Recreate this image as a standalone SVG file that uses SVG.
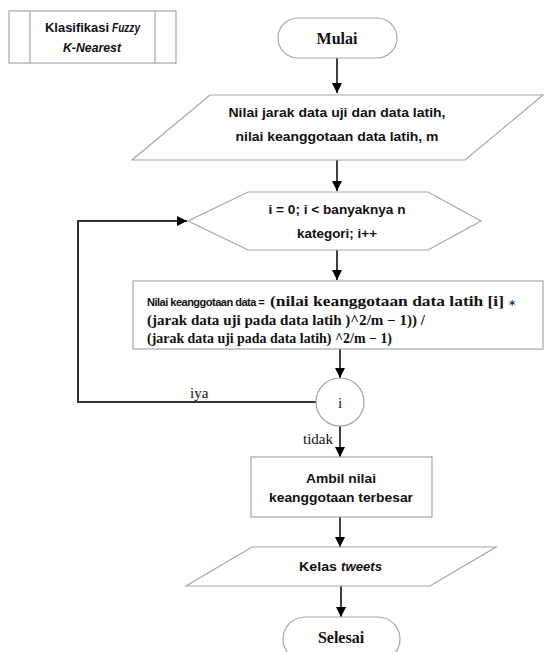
<svg xmlns="http://www.w3.org/2000/svg" width="544" height="652" viewBox="0 0 544 652">
<defs>
<marker id="ah" markerWidth="11" markerHeight="11" refX="10" refY="5.5" orient="auto" markerUnits="userSpaceOnUse">
<path d="M0,0.5 L10,5.5 L0,10.5 Z" fill="#000"/>
</marker>
<style>
.sh{fill:#fff;stroke:#a6a6a6;stroke-width:1.2}
.cn{fill:none;stroke:#111;stroke-width:1.6}
.lp{fill:none;stroke:#333;stroke-width:2}
.t{font-family:"Liberation Sans",Arial,sans-serif;font-weight:bold;font-size:13.5px;fill:#111;text-anchor:middle}
.tl{font-family:"Liberation Sans",Arial,sans-serif;font-weight:bold;font-size:12.5px;fill:#111}
.nk{font-family:"Liberation Sans",Arial,sans-serif;font-weight:bold;font-size:11px;letter-spacing:-0.5px;fill:#111}
.m{font-family:"Liberation Serif","Times New Roman",serif;font-weight:bold;font-size:14px;fill:#111}
.ast{font-family:"Liberation Serif","Times New Roman",serif;font-size:10px;fill:#111}
.s{font-family:"Liberation Serif","Times New Roman",serif;font-size:15px;fill:#111}
.sb{font-family:"Liberation Serif","Times New Roman",serif;font-weight:bold;font-size:16px;fill:#111;text-anchor:middle}
</style>
</defs>
<rect width="544" height="652" fill="#fff"/>

<g id="header">
<rect class="sh" x="9" y="11" width="167" height="52"/>
<line class="sh" x1="30" y1="11" x2="30" y2="63"/>
<line class="sh" x1="155" y1="11" x2="155" y2="63"/>
<text class="tl" x="45" y="32" textLength="64" lengthAdjust="spacingAndGlyphs">Klasifikasi</text>
<text class="tl" x="112" y="32" font-style="italic" textLength="28" lengthAdjust="spacingAndGlyphs">Fuzzy</text>
<text class="t" x="92" y="52" font-style="italic" textLength="58" lengthAdjust="spacingAndGlyphs">K-Nearest</text>
</g>

<g id="connectors">
<line class="cn" x1="337" y1="58" x2="337" y2="93" marker-end="url(#ah)"/>
<line class="cn" x1="337" y1="160" x2="337" y2="191" marker-end="url(#ah)"/>
<line class="cn" x1="337" y1="250" x2="337" y2="280" marker-end="url(#ah)"/>
<line class="cn" x1="340" y1="349" x2="340" y2="378" marker-end="url(#ah)"/>
<line class="cn" x1="340" y1="426" x2="340" y2="457" marker-end="url(#ah)"/>
<line class="cn" x1="340" y1="517" x2="340" y2="547" marker-end="url(#ah)"/>
<line class="cn" x1="341" y1="586" x2="341" y2="617" marker-end="url(#ah)"/>
<polyline class="lp" points="316,402 78,402 78,221 187,221" marker-end="url(#ah)"/>
<text class="s" x="190" y="398">iya</text>
<text class="s" x="303" y="444">tidak</text>
</g>

<g id="mulai">
<rect class="sh" x="278" y="18" width="119" height="40" rx="20" ry="20"/>
<text class="sb" x="337" y="44">Mulai</text>
</g>

<g id="input">
<polygon class="sh" points="210,95 543,95 465,160 132,160"/>
<text class="t" x="337" y="117" textLength="217" lengthAdjust="spacingAndGlyphs">Nilai jarak data uji dan data latih,</text>
<text class="t" x="337" y="141" textLength="203" lengthAdjust="spacingAndGlyphs">nilai keanggotaan data latih, m</text>
</g>

<g id="loop">
<polygon class="sh" points="248,192 428,192 481,221 428,250 248,250 188,221"/>
<text class="t" x="337" y="214" textLength="137" lengthAdjust="spacingAndGlyphs">i = 0; i &lt; banyaknya n</text>
<text class="t" x="337" y="238" textLength="80" lengthAdjust="spacingAndGlyphs">kategori; i++</text>
</g>

<g id="hitung">
<rect class="sh" x="133" y="281" width="410" height="68"/>
<text class="nk" x="147" y="306">Nilai keanggotaan data =</text>
<text class="m" x="270" y="306" textLength="234" lengthAdjust="spacingAndGlyphs">(nilai keanggotaan data latih [i]</text>
<text class="ast" x="508" y="306">∗</text>
<text class="m" x="147" y="325" textLength="278" lengthAdjust="spacingAndGlyphs">(jarak data uji pada data latih )^2/m − 1))  /</text>
<text class="m" x="147" y="343" textLength="245" lengthAdjust="spacingAndGlyphs">(jarak data uji pada data latih) ^2/m − 1)</text>
</g>

<g id="kondisi">
<circle class="sh" cx="340" cy="402" r="24"/>
<text class="s" x="340" y="408" text-anchor="middle">i</text>
</g>

<g id="ambil">
<rect class="sh" x="251" y="457" width="181" height="60"/>
<text class="t" x="341" y="483" textLength="70" lengthAdjust="spacingAndGlyphs">Ambil nilai</text>
<text class="t" x="341" y="502" textLength="144" lengthAdjust="spacingAndGlyphs">keanggotaan terbesar</text>
</g>

<g id="kelas">
<polygon class="sh" points="252,547 496,547 430,586 186,586"/>
<text class="tl" x="299" y="571" textLength="38" lengthAdjust="spacingAndGlyphs">Kelas</text>
<text class="tl" x="341" y="571" font-style="italic" textLength="41" lengthAdjust="spacingAndGlyphs">tweets</text>
</g>

<g id="selesai">
<rect class="sh" x="283" y="617" width="117" height="44" rx="22" ry="22"/>
<text class="sb" x="341" y="643">Selesai</text>
</g>
</svg>
